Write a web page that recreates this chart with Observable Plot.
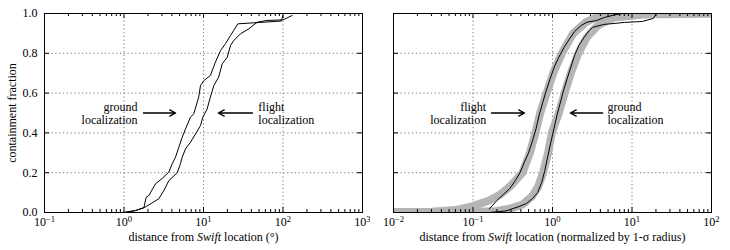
<!DOCTYPE html>
<html><head><meta charset="utf-8">
<script src="https://cdn.jsdelivr.net/npm/d3@7"></script>
<script src="https://cdn.jsdelivr.net/npm/@observablehq/plot@0.6"></script>
<style>
body{margin:0;background:#fff;}
#wrap{display:flex;width:730px;height:250px;}
svg{overflow:visible}
</style></head><body><div id="wrap"></div>
<script>
// ---- Left panel: distance in degrees ----
const groundDegX = [1.0, 1.4, 1.78, 1.9, 2.05, 2.49, 3.0, 3.66, 4.04, 4.45, 4.89, 5.4, 5.94, 6.86, 7.55, 8.7, 9.17, 10.1, 12.2, 14.1, 16.4, 18.9, 21.9, 24, 27, 50, 95, 100];
const groundDegY = [0.0, 0.01, 0.024, 0.077, 0.085, 0.144, 0.17, 0.203, 0.245, 0.278, 0.328, 0.378, 0.42, 0.479, 0.496, 0.58, 0.638, 0.663, 0.688, 0.755, 0.814, 0.848, 0.89, 0.915, 0.948, 0.955, 0.962, 0.99];
const flightDegX = [1.0, 1.4, 1.83, 2.74, 3.17, 3.66, 4.67, 5.13, 5.4, 5.94, 6.86, 7.94, 9.17, 9.8, 11.1, 12.2, 13.5, 15.5, 17.2, 19.9, 21.9, 24, 29.2, 37.2, 47.3, 63, 100, 130];
const flightDegY = [0.0, 0.01, 0.026, 0.069, 0.11, 0.16, 0.2, 0.245, 0.278, 0.32, 0.353, 0.395, 0.437, 0.479, 0.52, 0.58, 0.638, 0.68, 0.747, 0.78, 0.84, 0.864, 0.898, 0.923, 0.956, 0.965, 0.968, 0.99];

// ---- Right panel: distance normalized by 1-sigma radius ----
const flightNormX = [0.16, 0.2, 0.24, 0.29, 0.34, 0.39, 0.44, 0.5, 0.56, 0.62, 0.68, 0.75, 0.83, 0.93, 1.05, 1.2, 1.4, 1.62, 1.9, 2.3, 2.7, 3.6, 4.5, 6.0, 7.5];
const flightNormY = [0.018, 0.06, 0.09, 0.12, 0.16, 0.2, 0.25, 0.3, 0.36, 0.42, 0.49, 0.55, 0.61, 0.67, 0.73, 0.78, 0.83, 0.87, 0.91, 0.94, 0.956, 0.965, 0.98, 0.993, 1.0];
const groundNormX = [0.16, 0.26, 0.32, 0.38, 0.47, 0.56, 0.65, 0.73, 0.8, 0.87, 0.95, 1.04, 1.14, 1.25, 1.37, 1.52, 1.7, 1.9, 2.15, 2.5, 2.9, 3.2, 4.4, 8, 13.5, 18.5, 20];
const groundNormY = [0.0, 0.008, 0.02, 0.03, 0.045, 0.07, 0.1, 0.15, 0.21, 0.28, 0.35, 0.42, 0.49, 0.55, 0.61, 0.67, 0.73, 0.79, 0.84, 0.88, 0.915, 0.93, 0.945, 0.955, 0.96, 0.975, 0.995];
// expected distributions (grey bands)
const flightModelX = [0.01, 0.03, 0.06, 0.1, 0.16, 0.22, 0.3, 0.42, 0.52, 0.61, 0.7, 0.845, 1.02, 1.31, 1.82, 2.6, 3.5, 6.4, 100];
const flightModelY = [0.003, 0.004, 0.012, 0.032, 0.06, 0.09, 0.135, 0.2, 0.3, 0.4, 0.5, 0.6, 0.7, 0.8, 0.9, 0.955, 0.98, 0.997, 1.0];
const groundModelX = [0.01, 0.1, 0.2, 0.3, 0.42, 0.55, 0.66, 0.76, 0.88, 0.98, 1.2, 1.42, 1.7, 2.11, 2.7, 3.7, 6, 14, 100];
const groundModelY = [0.003, 0.003, 0.008, 0.02, 0.04, 0.08, 0.13, 0.2, 0.3, 0.4, 0.5, 0.6, 0.7, 0.8, 0.88, 0.94, 0.98, 0.995, 1.0];

// ---- ticks and labels ----
const yTicks = [0, 0.2, 0.4, 0.6, 0.8, 1.0];
const leftDecades = [0.1, 1, 10, 100, 1000];
const rightDecades = [0.01, 0.1, 1, 10, 100];
const leftXLabel = "distance from Swift location (°)";
const rightXLabel = "distance from Swift location (normalized by 1-σ radius)";
const yLabel = "containment fraction";

// annotations (data coordinates)
const leftNoteText = ["ground\nlocalization", "flight\nlocalization"];
const leftNoteX = [1.48, 49];
const leftArrowX1 = [1.76, 41.3];
const leftArrowX2 = [4.45, 15.4];
const rightNoteText = ["flight\nlocalization", "ground\nlocalization"];
const rightNoteX = [0.1466, 4.92];
const rightArrowX1 = [0.171, 4.26];
const rightArrowX2 = [0.444, 1.68];
const noteY = 0.5;

const rows = (xs, ys) => xs.map((x, i) => ({x, y: ys[i]}));
function minorTicks(decades) {
  const out = [];
  for (let i = 0; i < decades.length - 1; i++) for (let m = 2; m < 10; m++) out.push(decades[i] * m);
  return out;
}

function panel({width, marginLeft, marginRight, decades, curves, bands, noteText, noteX, a1, a2, showY, xLabel}) {
  const marginTop = 13, marginBottom = 38, height = 250;
  const H = height - marginTop - marginBottom;
  const W = width - marginLeft - marginRight;
  const minor = minorTicks(decades);
  const dash = {stroke: "#555", strokeWidth: 0.8, strokeDasharray: "1.2,2.6"};
  const marks = [
    Plot.ruleX(decades.slice(1, -1), {x: d => d, ...dash}),
    Plot.ruleY(yTicks.slice(1, -1), {y: d => d, ...dash}),
    ...bands.map(b => Plot.line(b, {x: "x", y: "y", stroke: "#b5b5b5", strokeWidth: 8, clip: true, strokeLinejoin: "round"})),
    ...curves.map(c => Plot.line(c, {x: "x", y: "y", stroke: "black", strokeWidth: 1})),
    Plot.tickX(minor, {x: d => d, insetTop: H - 3}),
    Plot.tickX(minor, {x: d => d, insetBottom: H - 3}),
    Plot.tickX(decades, {x: d => d, insetTop: H - 5}),
    Plot.tickX(decades, {x: d => d, insetBottom: H - 5}),
    Plot.tickY(yTicks, {y: d => d, insetRight: W - 5}),
    Plot.tickY(yTicks, {y: d => d, insetLeft: W - 5}),
    Plot.frame({stroke: "black", strokeWidth: 1}),
    Plot.text([0], {x: () => noteX[0], y: () => noteY, text: () => noteText[0], textAnchor: "end", lineAnchor: "middle", lineHeight: 1.12, fontSize: 12}),
    Plot.text([1], {x: () => noteX[1], y: () => noteY, text: () => noteText[1], textAnchor: "start", lineAnchor: "middle", lineHeight: 1.12, fontSize: 12}),
    Plot.arrow([0, 1], {x1: i => a1[i], x2: i => a2[i], y1: () => noteY, y2: () => noteY, stroke: "black", strokeWidth: 1.4, headLength: 7, headAngle: 55}),
    Plot.axisX(decades, {tickSize: 0, tickPadding: 5, label: null, fontSize: 12, tickFormat: d => `10^${Math.round(Math.log10(d))}`}),
    Plot.text([xLabel], {frameAnchor: "bottom", dy: 28, textAnchor: "middle", text: d => d, fontSize: 12})
  ];
  if (showY) {
    marks.push(Plot.axisY(yTicks, {tickSize: 0, tickPadding: 7, label: null, fontSize: 12, tickFormat: d3.format(".1f")}));
    marks.push(Plot.text([yLabel], {frameAnchor: "left", dx: -32, rotate: -90, textAnchor: "middle", lineAnchor: "middle", text: d => d, fontSize: 12}));
  }
  const svg = Plot.plot({
    width, height, marginLeft, marginRight, marginTop, marginBottom,
    style: {fontFamily: "'Liberation Serif', 'Times New Roman', serif", fontSize: "12px", background: "white", overflow: "visible"},
    x: {type: "log", domain: [decades[0], decades[decades.length - 1]]},
    y: {domain: [0, 1], axis: showY ? undefined : null},
    marks
  });
  // superscript exponents
  d3.select(svg).selectAll('g[aria-label="x-axis tick label"] text').each(function () {
    const m = this.textContent.match(/^10\^(.*)$/);
    if (!m) return;
    const s = d3.select(this);
    s.text(null);
    s.append("tspan").text("10");
    s.append("tspan").attr("dy", "-0.42em").attr("font-size", "0.72em").text(m[1].replace("-", "−"));
  });
  // italic "Swift"
  d3.select(svg).selectAll("text").filter(function () { return this.textContent.includes("Swift") && !this.querySelector("tspan"); }).each(function () {
    const [a, b] = this.textContent.split("Swift");
    const s = d3.select(this);
    s.text(null);
    s.append("tspan").text(a);
    s.append("tspan").attr("font-style", "italic").text("Swift");
    s.append("tspan").text(b);
  });
  return svg;
}

const wrap = document.getElementById("wrap");
wrap.append(panel({
  width: 370, marginLeft: 44, marginRight: 8, decades: leftDecades,
  curves: [rows(groundDegX, groundDegY), rows(flightDegX, flightDegY)],
  bands: [],
  noteText: leftNoteText, noteX: leftNoteX, a1: leftArrowX1, a2: leftArrowX2,
  showY: true, xLabel: leftXLabel
}));
wrap.append(panel({
  width: 360, marginLeft: 23, marginRight: 19, decades: rightDecades,
  curves: [rows(flightNormX, flightNormY), rows(groundNormX, groundNormY)],
  bands: [rows(flightModelX, flightModelY), rows(groundModelX, groundModelY)],
  noteText: rightNoteText, noteX: rightNoteX, a1: rightArrowX1, a2: rightArrowX2,
  showY: false, xLabel: rightXLabel
}));
</script>
</body></html>
